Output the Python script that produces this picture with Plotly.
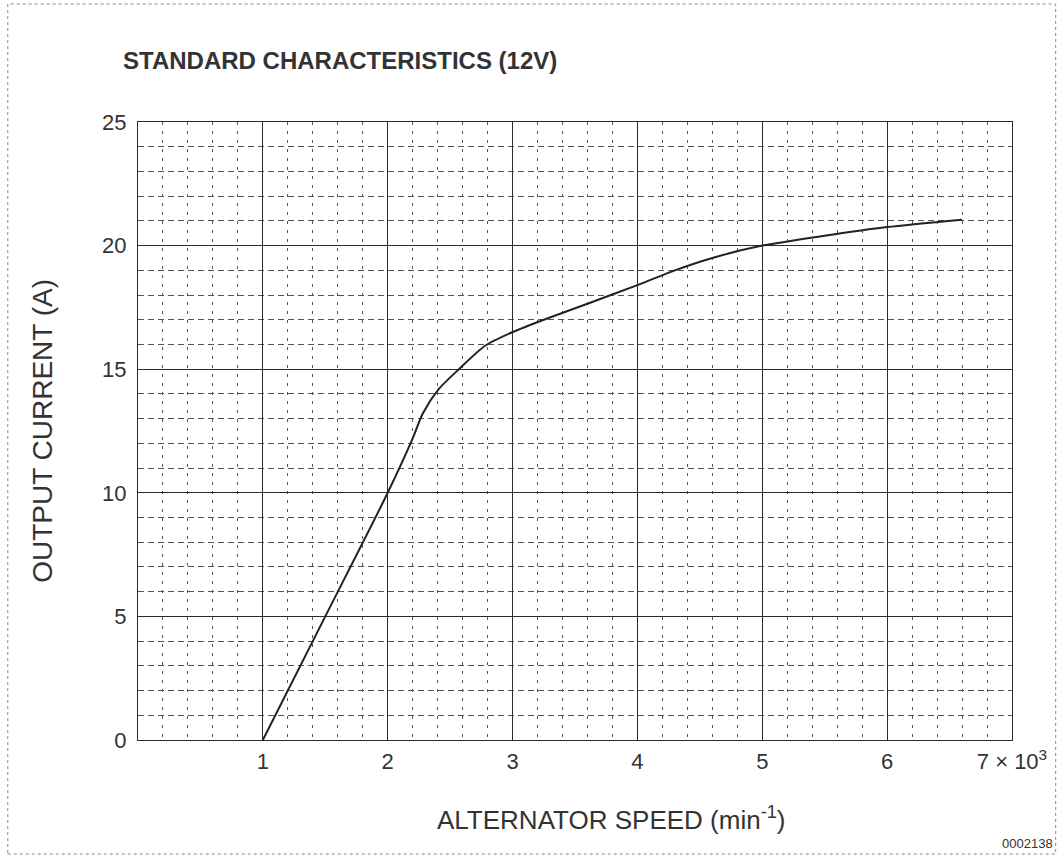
import plotly.graph_objects as go

# alternator output curve (speed in 10^3 min-1, current in A)
speed = [1.0, 1.5, 2.0, 2.2, 2.28, 2.41, 2.57, 2.78, 3.0, 3.25, 3.6, 4.0, 4.3, 4.6, 5.0, 5.5, 6.0, 6.6]
current = [0.0, 5.0, 10.0, 12.2, 13.2, 14.2, 15.0, 15.95, 16.5, 17.0, 17.65, 18.4, 19.0, 19.5, 20.0, 20.4, 20.75, 21.05]

x_ticks = [1, 2, 3, 4, 5, 6, 7]
x_labels = ["1", "2", "3", "4", "5", "6", "7 × 10<sup>3</sup>"]
y_ticks = [0, 5, 10, 15, 20, 25]

FONT = "Liberation Sans, Arial, sans-serif"
TXT = "#333333"
GRID = "#2b2b2b"

fig = go.Figure()

fig.add_trace(go.Scatter(
    x=speed, y=current,
    mode="lines",
    line=dict(color="#222222", width=2, shape="spline", smoothing=0.7),
    hoverinfo="skip",
    showlegend=False,
))

fig.update_xaxes(
    range=[0, 7],
    tickvals=x_ticks, ticktext=x_labels,
    showgrid=True, gridcolor=GRID, gridwidth=1,
    minor=dict(dtick=0.2, tick0=0, showgrid=True, gridcolor="#555555",
               gridwidth=1, griddash="3px,6px"),
    showline=True, linecolor=GRID, linewidth=1, mirror=True,
    zeroline=False, ticks="", ticklabelstandoff=2,
    tickfont=dict(family=FONT, size=22, color=TXT),
)
fig.update_yaxes(
    range=[0, 25],
    tickvals=y_ticks,
    showgrid=True, gridcolor=GRID, gridwidth=1,
    minor=dict(dtick=1, tick0=0, showgrid=True, gridcolor="#555555",
               gridwidth=1, griddash="6px,4px"),
    showline=True, linecolor=GRID, linewidth=1, mirror=True,
    zeroline=False, ticks="", ticklabelstandoff=6,
    tickfont=dict(family=FONT, size=22, color=TXT),
)

# outer dotted frame
fig.add_shape(type="rect", xref="paper", yref="paper",
              x0=-0.149, x1=1.050, y0=-0.1845, y1=1.191,
              line=dict(color="#888888", width=1, dash="dot"))

fig.add_annotation(text="<b>STANDARD CHARACTERISTICS (12V)</b>",
                   xref="paper", yref="paper", x=-0.019, y=1.10,
                   xanchor="left", yanchor="middle", showarrow=False,
                   font=dict(family=FONT, size=24, color=TXT))
fig.add_annotation(text="ALTERNATOR SPEED (min<sup>-1</sup>)",
                   xref="paper", yref="paper", x=0.541, y=-0.127,
                   xanchor="center", yanchor="middle", showarrow=False,
                   font=dict(family=FONT, size=26, color=TXT))
fig.add_annotation(text="OUTPUT CURRENT (A)", textangle=-90,
                   xref="paper", yref="paper", x=-0.110, y=0.50,
                   xanchor="center", yanchor="middle", showarrow=False,
                   font=dict(family=FONT, size=28, color=TXT))
fig.add_annotation(text="0002138",
                   xref="paper", yref="paper", x=1.049, y=-0.168,
                   xanchor="right", yanchor="middle", showarrow=False,
                   font=dict(family=FONT, size=13, color=TXT))

fig.update_layout(
    width=1060, height=856,
    margin=dict(l=138, r=48, t=122, b=116),
    paper_bgcolor="white", plot_bgcolor="white",
    font=dict(family=FONT, color=TXT),
)

fig.write_html("out.html", config={"displayModeBar": False},
               post_script="document.body.style.margin='0';")
